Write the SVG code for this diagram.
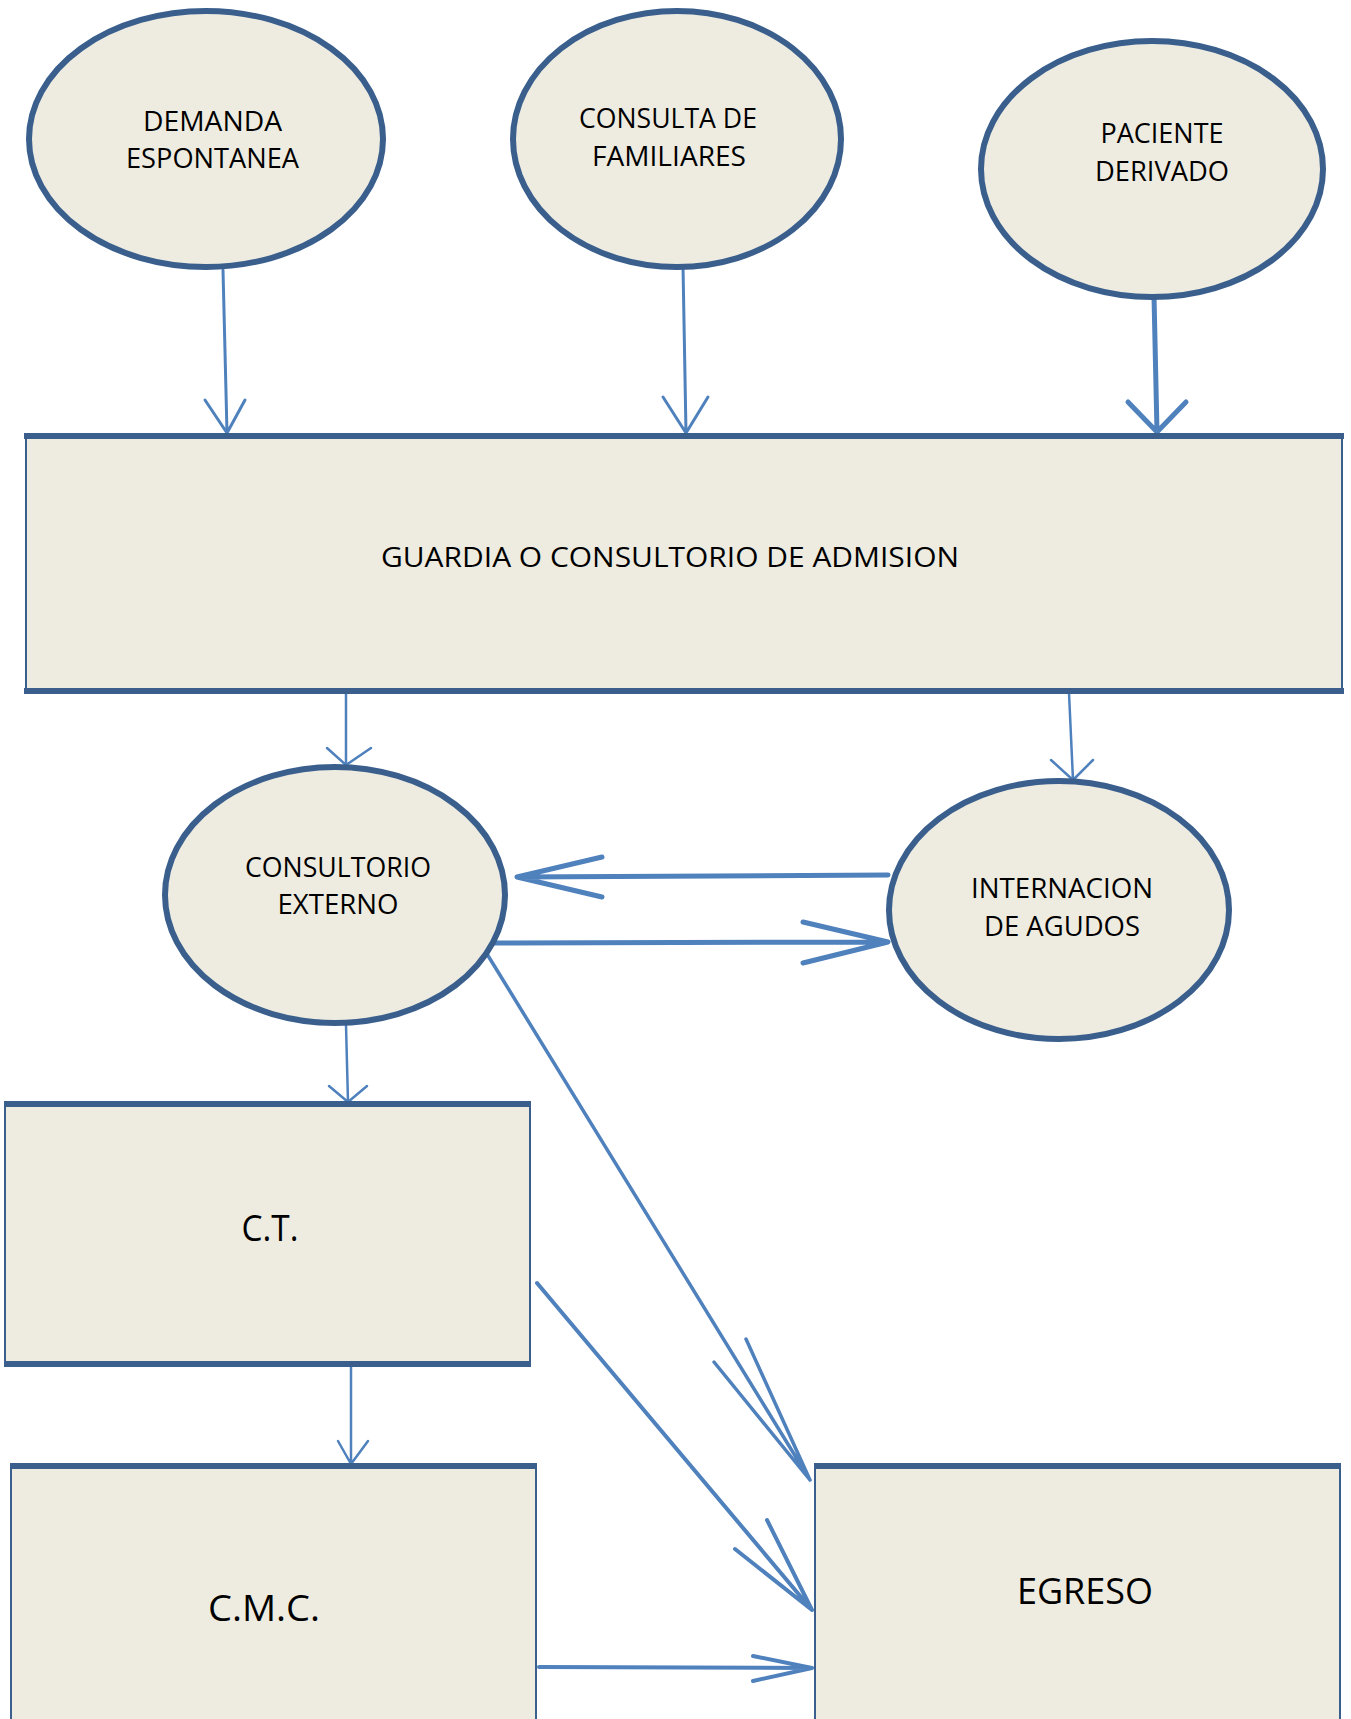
<svg xmlns="http://www.w3.org/2000/svg" width="1351" height="1719" viewBox="0 0 1351 1719">
<style>
.bg{fill:#ffffff}
.ell{fill:#EEECE1;stroke:#3A5F8D;stroke-width:6}
.box{fill:#EEECE1;stroke:#3A5F8D;stroke-width:2}
.edge{stroke:#3A5F8D;stroke-width:6;fill:none}
.ln{stroke:#4F81BD;fill:none;stroke-linecap:round;stroke-linejoin:round}
.t{font-family:"Open Sans","Liberation Sans",Arial,sans-serif;font-size:27px;fill:#000;text-anchor:middle}
.tb{font-family:"Open Sans","Liberation Sans",Arial,sans-serif;font-size:36px;fill:#000;text-anchor:middle}
</style>
<rect class="bg" x="0" y="0" width="1351" height="1719"/>
<g id="connectors">
<path class="ln" stroke-width="3" d="M223,270 L227,433 M205,400 L227,433 L245,400"/>
<path class="ln" stroke-width="3" d="M683,266 L686,433 M663,397 L686,433 L708,397"/>
<path class="ln" stroke-width="5" d="M1154,296 L1157,432 M1128,402 L1157,432 L1186,402"/>
<path class="ln" stroke-width="2.5" d="M346,693 L346,765 M327,748 L346,765 L371,748"/>
<path class="ln" stroke-width="2.5" d="M1069,693 L1073,780 M1051,760 L1073,780 L1093,760"/>
<path class="ln" stroke-width="5" d="M888,875 L517,877 M602,857 L517,877 L602,897"/>
<path class="ln" stroke-width="5" d="M485,943 L888,942 M803,922 L888,942 L803,963"/>
<path class="ln" stroke-width="2.5" d="M346,1025 L348,1102 M329,1086 L348,1102 L367,1086"/>
<path class="ln" stroke-width="3.5" d="M487,954 L810,1480 M714,1362 L810,1480 L746,1339"/>
<path class="ln" stroke-width="4" d="M537,1283 L812,1610 M735,1549 L812,1610 L767,1520"/>
<path class="ln" stroke-width="4" d="M539,1667 L812,1668 M753,1656 L812,1668 L753,1681"/>
<path class="ln" stroke-width="2.5" d="M351,1366 L351,1464 M338,1441 L351,1464 L368,1441"/>
</g>
<g id="demanda">
<ellipse class="ell" cx="206" cy="139" rx="177" ry="128"/>
<text class="t" x="212.5" y="131" textLength="139" lengthAdjust="spacingAndGlyphs">DEMANDA</text>
<text class="t" x="212.5" y="168" textLength="173" lengthAdjust="spacingAndGlyphs">ESPONTANEA</text>
</g>
<g id="consulta">
<ellipse class="ell" cx="677" cy="139" rx="164" ry="128"/>
<text class="t" x="668" y="128" textLength="178" lengthAdjust="spacingAndGlyphs">CONSULTA DE</text>
<text class="t" x="669" y="166" textLength="154" lengthAdjust="spacingAndGlyphs">FAMILIARES</text>
</g>
<g id="paciente">
<ellipse class="ell" cx="1152" cy="169" rx="171" ry="128"/>
<text class="t" x="1162" y="143" textLength="123" lengthAdjust="spacingAndGlyphs">PACIENTE</text>
<text class="t" x="1162" y="181" textLength="134" lengthAdjust="spacingAndGlyphs">DERIVADO</text>
</g>
<g id="guardia">
<rect class="box" x="26" y="436" width="1316" height="255" stroke-width="3"/>
<line class="edge" x1="24" y1="436" x2="1344" y2="436" stroke-width="5"/>
<line class="edge" x1="24" y1="691" x2="1344" y2="691" stroke-width="5"/>
<text class="t" x="670" y="567" font-size="28" textLength="578" lengthAdjust="spacingAndGlyphs">GUARDIA O CONSULTORIO DE ADMISION</text>
</g>
<g id="consultorio">
<ellipse class="ell" cx="335" cy="895" rx="170" ry="128"/>
<text class="t" x="338" y="877" textLength="186" lengthAdjust="spacingAndGlyphs">CONSULTORIO</text>
<text class="t" x="338" y="914" textLength="121" lengthAdjust="spacingAndGlyphs">EXTERNO</text>
</g>
<g id="internacion">
<ellipse class="ell" cx="1059" cy="910" rx="170" ry="129"/>
<text class="t" x="1062" y="898" textLength="182" lengthAdjust="spacingAndGlyphs">INTERNACION</text>
<text class="t" x="1062" y="936" textLength="156" lengthAdjust="spacingAndGlyphs">DE AGUDOS</text>
</g>
<g id="ct">
<rect class="box" x="5" y="1104" width="525" height="260"/>
<line class="edge" x1="4" y1="1104" x2="531" y2="1104"/>
<line class="edge" x1="4" y1="1364" x2="531" y2="1364"/>
<text class="tb" x="270" y="1241" font-size="37" textLength="57" lengthAdjust="spacingAndGlyphs">C.T.</text>
</g>
<g id="cmc">
<rect class="box" x="11" y="1466" width="525" height="270"/>
<line class="edge" x1="10" y1="1466" x2="537" y2="1466"/>
<text class="tb" x="264" y="1621" textLength="112" lengthAdjust="spacingAndGlyphs">C.M.C.</text>
</g>
<g id="egreso">
<rect class="box" x="815" y="1466" width="525" height="270"/>
<line class="edge" x1="814" y1="1466" x2="1341" y2="1466"/>
<text class="tb" x="1085" y="1604" textLength="136" lengthAdjust="spacingAndGlyphs">EGRESO</text>
</g>
</svg>
